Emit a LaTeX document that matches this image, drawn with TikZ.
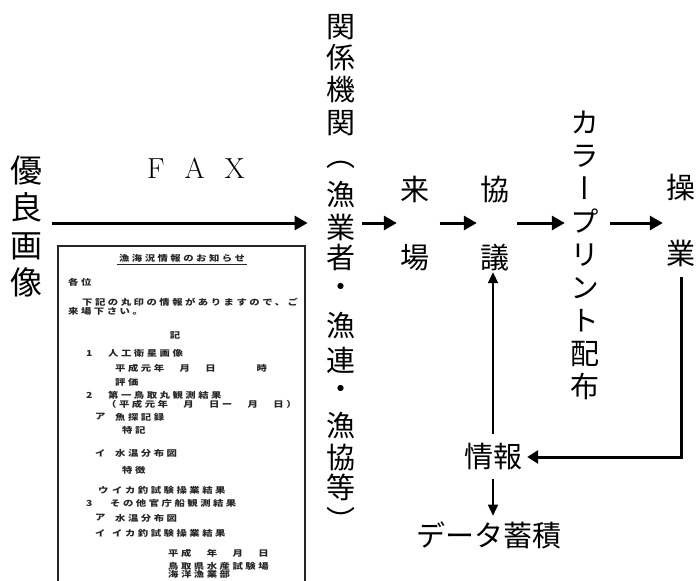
\documentclass[tikz,border=0pt]{standalone}
\usepackage{fontspec}
\usepackage{graphicx}
\usetikzlibrary{arrows.meta,fit,calc}
\newfontfamily\jp{Noto Sans CJK JP}
\newfontfamily\jpv[RawFeature=+vert]{Noto Sans CJK JP}
\newfontfamily\docfont[FakeStretch=1.25,LetterSpace=30]{Noto Sans CJK JP}
\tikzset{
  lbl/.style={inner sep=0pt, font=\jp\fontsize{29}{29}\selectfont},
  colch/.style={inner sep=0pt, font=\jpv\fontsize{29}{29}\selectfont},
  doc/.style={inner sep=0pt, anchor=west, font=\docfont\bfseries\fontsize{8.3}{8.3}\selectfont, text=black!85},
  thickarr/.style={line width=3pt, -{Triangle[length=13pt,width=14pt]}},
  thinarr/.style={line width=1.6pt, -{Triangle[length=11pt,width=10pt]}},
}
\begin{document}
\begin{tikzpicture}[x=1pt,y=-1pt]
\fill[white] (0,0) rectangle (697,581);
\useasboundingbox (0,0) rectangle (697,581);

% left label and FAX
\node[inner sep=0pt, align=center, font=\jp\fontsize{32}{37.5}\selectfont] (youryo) at (26,226.5) {優\\良\\画\\像};
\node[inner sep=0pt, anchor=base, font=\fontsize{29}{29}\selectfont] (fax) at (196,178) {F\hspace{20pt}A\hspace{20pt}X};

% column of organisations
\foreach \ch/\yy [count=\i] in {関/27,係/58,機/90,関/123,（/165,漁/195,業/227,者/257,・/290,漁/326,連/360,・/392,漁/426,協/457,等/487,）/519}
  \node[colch] (k\i) at (341,\yy) {\ch};
\node[fit=(k1)(k16), inner sep=0pt] (kankei) {};

% right labels
\node[inner sep=0pt, align=center, font=\jp\fontsize{29}{68}\selectfont] (raijo) at (415,224) {来\\場};
\node[inner sep=0pt, align=center, font=\jp\fontsize{29}{68}\selectfont] (kyogi) at (495,224) {協\\議};
\node[inner sep=0pt, align=center, font=\jpv\fontsize{29}{33.1}\selectfont] (color) at (585,255.5) {カ\\ラ\\ー\\プ\\リ\\ン\\ト\\配\\布};
\node[inner sep=0pt, align=center, font=\jp\fontsize{29}{66}\selectfont] (sogyo) at (681,220) {操\\業};
\node[lbl] (joho) at (493,457) {情報};
\node[lbl] (data) at (489,535) {データ蓄積};

% arrows
\coordinate (main) at (0,223);
\draw[thickarr, shorten <=10pt, shorten >=18.5pt] (youryo.east |- main) -- (kankei.west |- main);
\draw[thickarr, shorten <=6.5pt, shorten >=3.5pt] (kankei.east |- main) -- (raijo.west |- main);
\draw[thickarr, shorten <=10pt, shorten >=3.5pt] (raijo.east |- main) -- (kyogi.west |- main);
\draw[thickarr, shorten <=7.5pt, shorten >=5.5pt] (kyogi.east |- main) -- (color.west |- main);
\draw[thickarr, shorten <=10.5pt, shorten >=3.5pt] (color.east |- main) -- (sogyo.west |- main);
\draw[line width=3pt, -{Triangle[length=11pt,width=13pt]}, shorten <=10.5pt, shorten >=5pt, line join=miter] (sogyo.south) |- (joho.east);
\draw[thinarr, shorten <=9.5pt, shorten >=0.5pt] (joho.north) -- (joho.north |- kyogi.south);
\draw[thinarr, shorten <=8.5pt, shorten >=5.5pt] (joho.south) -- (joho.south |- data.north);

% FAX sheet
\draw[line width=1.1pt, black!85] (58,581) -- (58,246) -- (305,246) -- (305,581);
\node[doc, anchor=center] (d1) at (182,258) {漁海況情報のお知らせ};
\draw[line width=0.8pt, black!85] (117,264) -- (247,264);
\node[doc] (d2) at (68,282) {各位};
\node[doc] (d3) at (82,302) {下記の丸印の情報がありますので、ご};
\node[doc] (d4) at (68,311) {来場下さい。};
\node[doc, anchor=center] (d5) at (175,335) {記};
\node[doc] (d6a) at (86,353) {1};
\node[doc] (d6) at (108,353) {人工衛星画像};
\node[doc] (d7) at (115,368) {平成元年　月　日　　　時};
\node[doc] (d8) at (115,382) {評価};
\node[doc] (d9a) at (86,395) {2};
\node[doc] (d9) at (108,395) {第一鳥取丸観測結果};
\node[doc] (d10) at (106,404) {（平成元年　月　日ー　月　日）};
\node[doc] (d11a) at (95,417) {ア};
\node[doc] (d11) at (115,417) {魚探記録};
\node[doc] (d12) at (122,430) {特記};
\node[doc] (d13a) at (95,453) {イ};
\node[doc] (d13) at (115,453) {水温分布図};
\node[doc] (d14) at (122,470) {特徴};
\node[doc] (d15a) at (98,490) {ウ};
\node[doc] (d15) at (112,490) {イカ釣試験操業結果};
\node[doc] (d16a) at (86,503) {3};
\node[doc] (d16) at (110,503) {その他官庁船観測結果};
\node[doc] (d17a) at (95,518) {ア};
\node[doc] (d17) at (115,518) {水温分布図};
\node[doc] (d18a) at (95,533) {イ};
\node[doc] (d18) at (112,533) {イカ釣試験操業結果};
\node[doc] (d19) at (168,553) {平成　年　月　日};
\node[doc] (d20) at (168,566) {鳥取県水産試験場};
\node[doc] (d21) at (168,574) {海洋漁業部};
\end{tikzpicture}
\end{document}
